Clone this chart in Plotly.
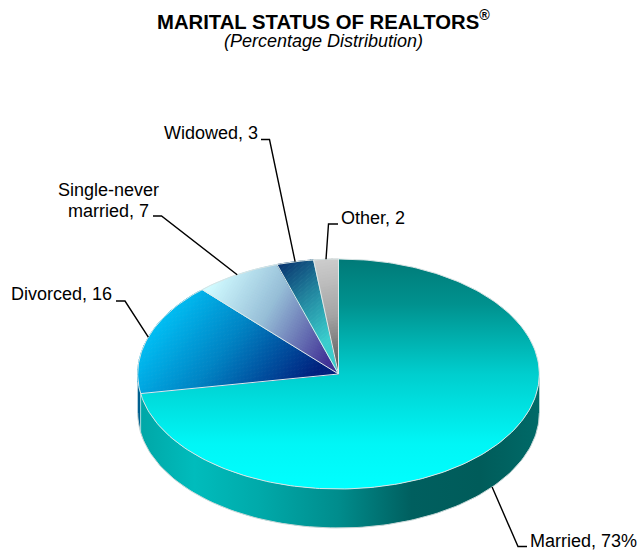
import numpy as np
import plotly.graph_objects as go

# ---- data ----
categories = ["Married", "Divorced", "Single-never<br>married", "Widowed", "Other"]
values = [73, 16, 7, 3, 2]
suffixes = ["%", "", "", "", ""]

# ---- pie geometry (plot units == pixels) ----
W, H = 639, 554
CX, CY, RX, RY, DEPTH = 338.5, 374.0, 200.8, 115.0, 39.0

total = sum(values)
cum = np.concatenate([[0], np.cumsum(values)]) / total * 2 * np.pi


def ex(t):
    return CX + RX * np.sin(t)


def ey(t):
    return CY - RY * np.cos(t)


def wedge(t0, t1):
    t = np.linspace(t0, t1, max(8, int((t1 - t0) * 80)))
    return [(CX, CY)] + list(zip(ex(t), ey(t)))


def clip(poly, d, lo, hi):
    """Keep the part of a polygon where lo <= p.d <= hi."""
    def half(points, sign, lim):
        out = []
        for i, a in enumerate(points):
            b = points[(i + 1) % len(points)]
            fa = sign * (a[0] * d[0] + a[1] * d[1] - lim)
            fb = sign * (b[0] * d[0] + b[1] * d[1] - lim)
            if fa >= 0:
                out.append(a)
            if fa * fb < 0:
                s = fa / (fa - fb)
                out.append((a[0] + s * (b[0] - a[0]), a[1] + s * (b[1] - a[1])))
        return out
    p = half(poly, 1, lo)
    return half(p, -1, hi) if p else p


def mix(stops, f):
    f = min(1, max(0, f))
    xs = [s[0] for s in stops]
    return "rgb(%d,%d,%d)" % tuple(
        np.interp(f, xs, [s[1][i] for s in stops]) for i in range(3))


fig = go.Figure()


def add_poly(xs, ys, **kw):
    fig.add_trace(go.Scatter(x=xs, y=ys, mode="lines", hoverinfo="skip",
                             showlegend=False, **kw))


def banded(poly, p0, p1, stops, n=70):
    """Diagonal gradient from pixel p0 to pixel p1."""
    v = np.array(p1, float) - np.array(p0, float)
    L = np.hypot(*v)
    d = v / L
    o = p0[0] * d[0] + p0[1] * d[1]
    proj = [p[0] * d[0] + p[1] * d[1] - o for p in poly]
    a, b = min(proj), max(proj)
    for i in range(n):
        lo = a + (b - a) * i / n
        hi = a + (b - a) * (i + 1) / n
        part = clip(poly, d, lo + o, hi + o)
        if len(part) < 3:
            continue
        col = mix(stops, ((lo + hi) / 2) / L)
        add_poly([q[0] for q in part] + [part[0][0]],
                 [q[1] for q in part] + [part[0][1]],
                 fill="toself", fillcolor=col, line=dict(color=col, width=1))


# side wall of the pie (visible from 90 to 270 degrees)
def side(t0, t1):
    t = np.linspace(t0, t1, 120)
    xs = np.concatenate([ex(t), ex(t[::-1])])
    ys = np.concatenate([ey(t) + DEPTH, ey(t[::-1])])
    return list(xs) + [xs[0]], list(ys) + [ys[0]]


x_m, y_m = side(np.pi / 2, cum[1])
add_poly(x_m, y_m, fill="toself", line=dict(width=0, color="rgba(0,0,0,0)"),
         fillgradient=dict(type="horizontal", start=138, stop=540,
                           colorscale=[[0, "#00a6a6"], [0.14, "#00bcbc"], [0.3, "#00aaaa"],
                                       [0.5, "#008c8c"], [0.68, "#005f5f"], [0.85, "#005c5a"],
                                       [1, "#006a68"]]))
x_d, y_d = side(cum[1], 3 * np.pi / 2)
add_poly(x_d, y_d, fill="toself", fillcolor="#00608f", line=dict(width=0, color="rgba(0,0,0,0)"))
add_poly([ex(cum[1])] * 2, [ey(cum[1]), ey(cum[1]) + DEPTH],
         line=dict(color="#9fdcdc", width=1))

# bottom rim highlight
t = np.linspace(np.pi / 2, 3 * np.pi / 2, 120)
add_poly(ex(t), ey(t) + DEPTH, line=dict(color="#c8d8d8", width=1))

# top faces
w = [wedge(cum[i], cum[i + 1]) for i in range(5)]
add_poly([p[0] for p in w[0]] + [CX], [p[1] for p in w[0]] + [CY], fill="toself",
         line=dict(width=0, color="rgba(0,0,0,0)"),
         fillgradient=dict(type="vertical", start=259, stop=489,
                           colorscale=[[0, "#007a78"], [0.2, "#00928f"], [0.5, "#00cece"],
                                       [0.8, "#00f6f6"], [1, "#00ffff"]]))
banded(w[1], (165, 290), (300, 395), [(0, (0, 204, 255)), (0.5, (0, 130, 195)), (1, (0, 32, 125))])
banded(w[2], (215, 280), (335, 350), [(0, (208, 250, 255)), (0.45, (150, 190, 215)), (1, (65, 50, 150))])
banded(w[3], (280, 262), (338, 330), [(0, (8, 50, 110)), (0.5, (35, 135, 160)), (1, (58, 205, 205))], n=40)
banded(w[4], (316, 262), (338, 372), [(0, (205, 205, 205)), (0.5, (165, 165, 165)), (1, (85, 85, 85))], n=40)

# slice separators and rim
for i in range(5):
    add_poly([CX, ex(cum[i])], [CY, ey(cum[i])], line=dict(color="#dcecec", width=1))
t = np.linspace(0, 2 * np.pi, 300)
add_poly(ex(t), ey(t), line=dict(color="#d8e4e4", width=1))

# leader lines: start at the middle of each slice, on the rim
mids = (cum[:-1] + cum[1:]) / 2
elbows = [(518, 546.5), (125, 301), (161.5, 216), (269.5, 139.5), (328.5, 224)]
ends = [(527, 546.5), (116, 301), (153, 216), (261, 139.5), (338, 224)]
for i in range(5):
    sy = ey(mids[i]) + (DEPTH if np.cos(mids[i]) < 0 else 0)
    add_poly([ex(mids[i]), elbows[i][0], ends[i][0]], [sy, elbows[i][1], ends[i][1]],
             line=dict(color="black", width=1.4))

# labels
label_font = dict(family="Liberation Sans", size=18, color="black")
anchors = [("left", 528, 541), ("right", 114, 294), ("center", 108.5, 200.5), ("right", 260, 133), ("left", 338.5, 218)]
LINE_GAP = 21
annotations = []
for i, (xa, ax, ay) in enumerate(anchors):
    lines = f"{categories[i]}, {values[i]}{suffixes[i]}".split("<br>")
    for k, line in enumerate(lines):
        annotations.append(dict(x=ax, y=ay + (k - (len(lines) - 1) / 2) * LINE_GAP,
                                xref="x", yref="y", xanchor=xa, yanchor="middle",
                                showarrow=False, text=line, font=label_font))
annotations.append(dict(x=323, y=19.5, xref="x", yref="y", xanchor="center", yanchor="middle",
                        showarrow=False, text="<b>MARITAL STATUS OF REALTORS<sup>®</sup></b>",
                        font=dict(family="Liberation Sans", size=20.3, color="black")))
annotations.append(dict(x=323, y=41, xref="x", yref="y", xanchor="center", yanchor="middle",
                        showarrow=False, text="<i>(Percentage Distribution)</i>",
                        font=label_font))

fig.update_layout(width=W, height=H, autosize=False, margin=dict(l=0, r=0, t=0, b=0),
                  paper_bgcolor="white", plot_bgcolor="white", annotations=annotations,
                  xaxis=dict(range=[0, W], visible=False, fixedrange=True),
                  yaxis=dict(range=[H, 0], visible=False, fixedrange=True))
fig.write_html("out.html", config={"displayModeBar": False},
               post_script="document.body.style.margin='0';document.documentElement.style.overflow='hidden';")
